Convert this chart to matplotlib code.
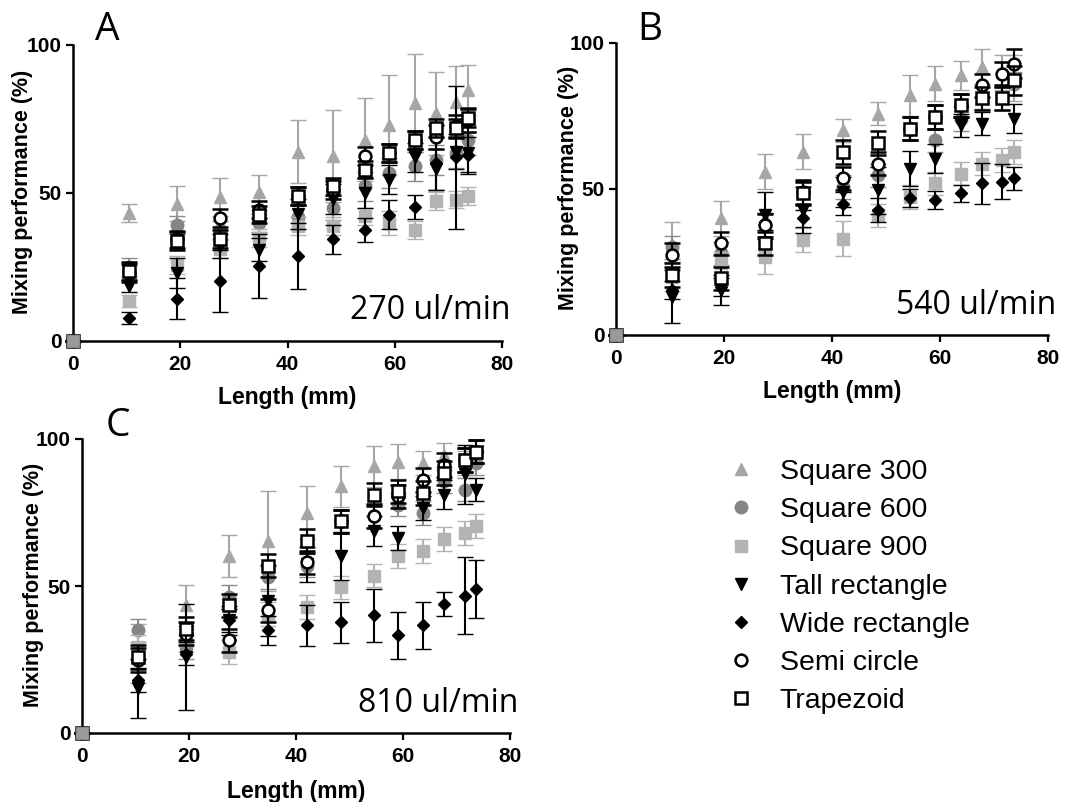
import matplotlib
matplotlib.use("Agg")
import matplotlib.pyplot as plt
from matplotlib.lines import Line2D

# ---------------- data ----------------
length_mm = [0, 10.4, 19.4, 27.5, 34.7, 42.0, 48.5, 54.5, 59.0, 63.8, 67.7, 71.5, 73.7]

series_names = ["Square 300", "Square 600", "Square 900", "Tall rectangle",
                "Wide rectangle", "Semi circle", "Trapezoid"]

# Panel A: 270 ul/min
a_sq300 = [0, 43.3, 46.4, 48.7, 50.2, 64.0, 62.4, 68.0, 73.0, 80.3, 77.0, 80.9, 84.8]
a_sq300_err = [0, 3, 6, 6.5, 6, 10.5, 15.5, 14, 17, 16.5, 14, 12, 8.5]
a_sq600 = [0, 25.0, 39.3, 37.6, 39.9, 42.0, 45.0, 52.2, 56.7, 59.0, 61.2, 63.5, 68.0]
a_sq600_err = [0, 3, 3, 3, 3, 4, 4, 5, 5, 5, 5, 5, 5]
a_sq900 = [0, 13.5, 25.8, 31.0, 34.8, 38.8, 38.8, 42.1, 39.9, 37.6, 47.2, 47.8, 48.9]
a_sq900_err = [0, 2, 3, 3, 3, 3, 3, 3, 4, 3, 3, 3, 3]
a_tall = [0, 18.5, 23.0, 32.0, 30.9, 43.0, 48.0, 50.0, 54.5, 62.0, 58.0, 64.0, 63.5]
a_tall_err = [0, 2, 5, 4, 4, 5, 5, 5, 5, 5, 7, 6, 7]
a_wide = [0, 7.9, 14.3, 20.2, 25.3, 28.7, 34.3, 37.6, 42.7, 45.3, 60.0, 62.0, 63.0]
a_wide_err = [0, 2, 7, 10.5, 10.7, 11, 5, 4, 5, 4, 9, 24, 6]
a_circle = [0, 23.0, 34.3, 41.6, 44.4, 48.9, 51.0, 62.4, 63.5, 68.0, 69.0, 72.5, 74.7]
a_circle_err = [0, 3, 3, 3, 3, 3, 3, 3, 3, 3, 4, 4, 4]
a_trap = [0, 23.6, 33.7, 34.5, 42.7, 48.9, 52.2, 57.9, 63.5, 68.0, 71.9, 71.9, 75.3]
a_trap_err = [0, 3, 3, 3, 3, 3, 3, 3, 3, 3, 3, 3, 3]

# Panel B: 540 ul/min
b_sq300 = [0, 30.8, 39.9, 55.9, 62.7, 70.1, 75.8, 82.1, 86.1, 88.9, 91.8, 90.0, 88.0]
b_sq300_err = [0, 8, 6, 6, 6, 4, 4, 7, 6, 5, 6, 6, 8]
b_sq600 = [0, 30.0, 28.0, 37.6, 48.5, 50.7, 54.7, 70.7, 66.7, 74.0, 81.5, 89.5, 86.1]
b_sq600_err = [0, 4, 4, 4, 4, 4, 4, 4, 4, 4, 4, 4, 4]
b_sq900 = [0, 20.0, 24.5, 26.8, 32.5, 33.0, 41.0, 47.3, 51.9, 55.3, 58.7, 59.9, 62.7]
b_sq900_err = [0, 5, 4, 6, 4, 6, 4, 4, 4, 4, 4, 4, 4]
b_tall = [0, 13.1, 15.4, 41.0, 42.8, 49.0, 49.6, 57.0, 60.4, 71.8, 72.4, 81.0, 74.1]
b_tall_err = [0, 9, 5, 8, 8, 5, 8, 6, 5, 4, 4, 4, 5]
b_wide = [0, 15.4, 16.5, 38.8, 39.9, 45.0, 42.8, 47.0, 46.2, 48.5, 51.9, 52.5, 53.6]
b_wide_err = [0, 3, 3, 3, 3, 4, 4, 3, 3, 3, 7, 6, 4]
b_circle = [0, 27.4, 31.4, 37.6, 49.0, 53.6, 58.7, 70.7, 74.7, 78.7, 85.5, 89.5, 92.9]
b_circle_err = [0, 4, 4, 4, 4, 4, 4, 4, 4, 4, 4, 4, 5]
b_trap = [0, 20.5, 19.4, 31.4, 48.5, 62.7, 65.8, 70.7, 74.7, 78.7, 81.0, 81.0, 87.2]
b_trap_err = [0, 4, 4, 4, 4, 4, 4, 4, 4, 4, 4, 4, 5]

# Panel C: 810 ul/min
c_sq300 = [0, 27.0, 43.4, 60.2, 65.3, 74.9, 83.9, 90.7, 92.3, 91.8, 94.6, 91.8, 94.6]
c_sq300_err = [0, 10, 7, 7, 17, 9, 7, 7, 6, 4, 4, 4, 3]
c_sq600 = [0, 34.9, 29.3, 46.2, 52.9, 56.9, 72.0, 73.8, 77.7, 74.9, 85.6, 82.8, 91.8]
c_sq600_err = [0, 4, 4, 4, 4, 4, 4, 4, 4, 4, 4, 4, 4]
c_sq900 = [0, 29.3, 31.5, 27.6, 40.5, 42.8, 49.5, 53.5, 60.2, 61.9, 65.9, 68.1, 70.4]
c_sq900_err = [0, 4, 4, 4, 4, 4, 4, 4, 4, 4, 4, 4, 4]
c_tall = [0, 15.2, 25.9, 38.3, 45.0, 57.4, 60.2, 68.7, 66.4, 76.6, 81.1, 88.0, 82.8]
c_tall_err = [0, 10, 18, 4, 12, 6, 8, 5, 4, 4, 5, 10, 4]
c_wide = [0, 18.0, 27.0, 38.3, 34.9, 36.6, 37.7, 40.0, 33.2, 36.6, 43.9, 46.7, 49.0]
c_wide_err = [0, 4, 4, 5, 5, 7, 7, 9, 8, 8, 4, 13, 10]
c_circle = [0, 24.8, 33.8, 31.5, 41.7, 58.0, 72.0, 73.8, 80.5, 86.1, 91.2, 92.9, 95.7]
c_circle_err = [0, 4, 4, 4, 4, 4, 4, 4, 4, 4, 4, 4, 4]
c_trap = [0, 25.9, 35.5, 43.4, 56.9, 65.3, 72.0, 81.1, 82.2, 81.6, 88.4, 92.9, 95.7]
c_trap_err = [0, 4, 4, 4, 4, 4, 4, 4, 4, 4, 4, 4, 4]

flow_labels = ["270 ul/min", "540 ul/min", "810 ul/min"]
panel_letters = ["A", "B", "C"]
x_ticks = [0, 20, 40, 60, 80]
y_ticks = [0, 50, 100]

# ---------------- styles ----------------
styles = [
    dict(marker="^", mfc="#a6a6a6", mec="#a6a6a6", ecolor="#a6a6a6"),
    dict(marker="o", mfc="#858585", mec="#858585", ecolor="#8c8c8c"),
    dict(marker="s", mfc="#b3b3b3", mec="#b3b3b3", ecolor="#b3b3b3"),
    dict(marker="v", mfc="black", mec="black", ecolor="black"),
    dict(marker="D", mfc="black", mec="black", ecolor="black"),
    dict(marker="o", mfc="white", mec="black", ecolor="black"),
    dict(marker="s", mfc="white", mec="black", ecolor="black"),
]
msizes = [9, 9, 8.5, 8.5, 6.5, 8.5, 8.5]

panels = [
    ([a_sq300, a_sq600, a_sq900, a_tall, a_wide, a_circle, a_trap],
     [a_sq300_err, a_sq600_err, a_sq900_err, a_tall_err, a_wide_err, a_circle_err, a_trap_err]),
    ([b_sq300, b_sq600, b_sq900, b_tall, b_wide, b_circle, b_trap],
     [b_sq300_err, b_sq600_err, b_sq900_err, b_tall_err, b_wide_err, b_circle_err, b_trap_err]),
    ([c_sq300, c_sq600, c_sq900, c_tall, c_wide, c_circle, c_trap],
     [c_sq300_err, c_sq600_err, c_sq900_err, c_tall_err, c_wide_err, c_circle_err, c_trap_err]),
]

W, H = 1075, 802
fig = plt.figure(figsize=(W / 100, H / 100), dpi=100)

def px_rect(left, right, top, bottom):
    return [left / W, 1 - bottom / H, (right - left) / W, (bottom - top) / H]

axes_rects = [px_rect(73, 502, 45, 341), px_rect(616, 1048, 43, 335), px_rect(82, 510, 439, 733)]
letter_pos = [(95, 40), (637, 40), (106, 436)]
ylabel_x = [-0.117, -0.111, -0.114]
xlabel_y = [-0.152, -0.154, -0.16]

bold = dict(family="Liberation Sans", weight="bold")

for i, (rect, (vals, errs)) in enumerate(zip(axes_rects, panels)):
    ax = fig.add_axes(rect)
    for j, (v, e) in enumerate(zip(vals, errs)):
        st = styles[j]
        ax.errorbar(length_mm, v, yerr=e, fmt=st["marker"], ms=msizes[j],
                    mfc=st["mfc"], mec=st["mec"], mew=1.8 if j >= 5 else 1.0,
                    ecolor=st["ecolor"], elinewidth=1.5, capsize=5.5, capthick=1.5,
                    clip_on=False, zorder=3 + j)
    # origin point shown as Square 900 on top
    ax.plot(length_mm[0], vals[2][0], "s", ms=8, mfc="#9a9a9a", mec="#8a8a8a",
            clip_on=False, zorder=20)
    ax.set_xlim(0, 80)
    ax.set_ylim(0, 100)
    ax.set_xticks(x_ticks)
    ax.set_yticks(y_ticks)
    for s in ["top", "right"]:
        ax.spines[s].set_visible(False)
    for s in ["left", "bottom"]:
        ax.spines[s].set_linewidth(1.8)
    ax.tick_params(width=1.6, length=5, labelsize=15)
    ax.tick_params(axis="x", pad=5)
    ax.tick_params(axis="y", pad=3)
    for lab in ax.get_xticklabels() + ax.get_yticklabels():
        lab.set_fontfamily("Liberation Sans")
        lab.set_fontweight("bold")
    ax.set_xlabel("Length (mm)", fontsize=16.5, **bold)
    ax.set_ylabel("Mixing performance (%)", fontsize=15.5, **bold)
    ax.xaxis.set_label_coords(0.5, xlabel_y[i])
    ax.yaxis.set_label_coords(ylabel_x[i], 0.505)
    ax.yaxis.label.set_verticalalignment("center")
    ax.text(81.5, 7.3, flow_labels[i], ha="right", va="baseline", fontsize=23,
            family="Open Sans", clip_on=False)
    lx, ly = letter_pos[i]
    fig.text(lx / W, 1 - ly / H, panel_letters[i], ha="left", va="baseline",
             fontsize=28, family="Open Sans")

handles = []
for j in range(7):
    st = styles[j]
    handles.append(Line2D([], [], ls="none", marker=st["marker"], ms=msizes[j],
                          mfc=st["mfc"], mec=st["mec"], mew=1.8 if j >= 5 else 1.0))
fig.legend(handles, series_names, loc="upper left",
           bbox_to_anchor=(727 / W, 1 - 459 / H), frameon=False,
           prop=dict(family="Liberation Sans", size=20.5), labelspacing=0.43,
           handletextpad=0.85, handlelength=1.0, borderpad=0, borderaxespad=0)

fig.savefig("out.png", dpi=100)
